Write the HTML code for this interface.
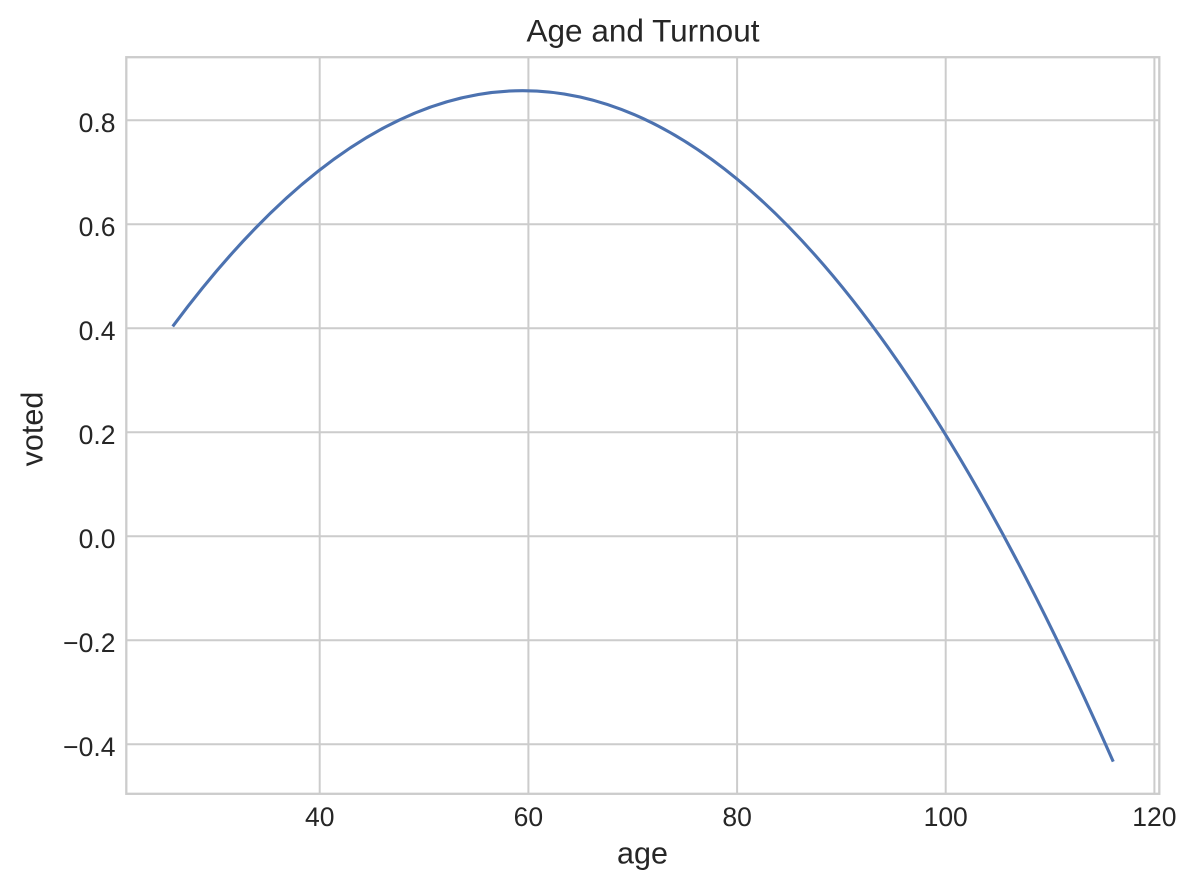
<!DOCTYPE html>
<html>
<head>
<meta charset="utf-8">
<style>
  html, body { margin: 0; padding: 0; background: #ffffff; }
  svg { display: block; }
  text { font-family: "Liberation Sans", Arial, sans-serif; fill: #262626; }
</style>
</head>
<body>
<svg width="1197" height="890" viewBox="0 0 1197 890" xmlns="http://www.w3.org/2000/svg">
  <rect x="0" y="0" width="1197" height="890" fill="#ffffff"/>
  <!-- grid lines -->
  <g stroke="#cccccc" stroke-width="2" fill="none">
    <line x1="319.7" y1="57.2" x2="319.7" y2="793.8"/>
    <line x1="528.4" y1="57.2" x2="528.4" y2="793.8"/>
    <line x1="737.1" y1="57.2" x2="737.1" y2="793.8"/>
    <line x1="945.7" y1="57.2" x2="945.7" y2="793.8"/>
    <line x1="1154.4" y1="57.2" x2="1154.4" y2="793.8"/>
    <line x1="126.3" y1="120.3" x2="1159.3" y2="120.3"/>
    <line x1="126.3" y1="224.3" x2="1159.3" y2="224.3"/>
    <line x1="126.3" y1="328.3" x2="1159.3" y2="328.3"/>
    <line x1="126.3" y1="432.3" x2="1159.3" y2="432.3"/>
    <line x1="126.3" y1="536.3" x2="1159.3" y2="536.3"/>
    <line x1="126.3" y1="640.3" x2="1159.3" y2="640.3"/>
    <line x1="126.3" y1="744.3" x2="1159.3" y2="744.3"/>
  </g>
  <!-- spines -->
  <rect x="126.3" y="57.2" width="1033" height="736.6" fill="none" stroke="#cccccc" stroke-width="2.3"/>
  <!-- curve -->
  <path d="M173.63,325.16 Q643.13,-305.59 1112.63,760.24" fill="none" stroke="#4c72b0" stroke-width="3.1" stroke-linecap="square"/>
  <!-- y tick labels -->
  <g font-size="26.5" text-anchor="end">
    <text x="115.5" y="132">0.8</text>
    <text x="115.5" y="236">0.6</text>
    <text x="115.5" y="340">0.4</text>
    <text x="115.5" y="444">0.2</text>
    <text x="115.5" y="548">0.0</text>
    <text x="115.5" y="652">−0.2</text>
    <text x="115.5" y="756">−0.4</text>
  </g>
  <!-- x tick labels -->
  <g font-size="26.5" text-anchor="middle">
    <text x="319.7" y="826">40</text>
    <text x="528.4" y="826">60</text>
    <text x="737.1" y="826">80</text>
    <text x="945.7" y="826">100</text>
    <text x="1154.4" y="826">120</text>
  </g>
  <!-- axis labels -->
  <text x="642.5" y="863.5" font-size="30.5" text-anchor="middle">age</text>
  <text transform="translate(42.5,429) rotate(-90)" font-size="30.5" text-anchor="middle">voted</text>
  <!-- title -->
  <text x="643" y="41.5" font-size="31.5" text-anchor="middle">Age and Turnout</text>
</svg>
</body>
</html>
